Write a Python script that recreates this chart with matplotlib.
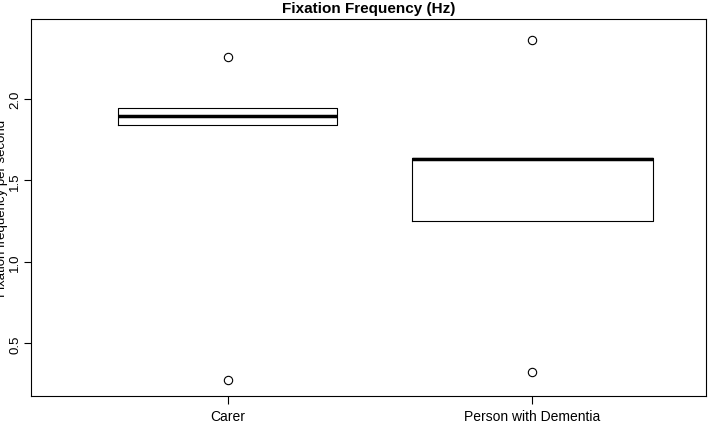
import matplotlib
matplotlib.use("Agg")
import matplotlib.pyplot as plt

groups = ["Carer", "Person with Dementia"]
q1 = [1.84, 1.25]
median = [1.896, 1.63]
q3 = [1.945, 1.64]
outliers = [[2.26, 0.276], [2.36, 0.325]]
positions = [1, 2]
widths = [0.72, 0.79]

plt.rcParams["font.family"] = "Liberation Sans"
fig = plt.figure(figsize=(7.09, 4.27), dpi=100)
ax = fig.add_axes([31 / 709, 30 / 427, 675 / 709, 377 / 427])

stats = []
for i in range(len(groups)):
    stats.append(dict(med=median[i], q1=q1[i], q3=q3[i], whislo=q1[i], whishi=q3[i],
                      fliers=outliers[i], label=groups[i]))
ax.bxp(stats, positions=positions, widths=widths, showcaps=False,
       boxprops=dict(color="black", linewidth=0.8),
       medianprops=dict(color="black", linewidth=2.5),
       whiskerprops=dict(color="black", linewidth=0.8),
       flierprops=dict(marker="o", markerfacecolor="none", markeredgecolor="black",
                       markersize=6, markeredgewidth=0.8))

ax.set_xlim(0.354, 2.57)
ax.set_ylim(0.178, 2.49)
ax.set_yticks([0.5, 1.0, 1.5, 2.0])
ax.set_yticklabels(["0.5", "1.0", "1.5", "2.0"], rotation=90, va="center", fontsize=9.5)
ax.tick_params(axis="x", labelsize=10, length=6)
ax.tick_params(axis="y", length=5, pad=2)
ax.set_ylabel("Fixation frequency per second", fontsize=9.5, labelpad=1)
ax.set_title("Fixation Frequency (Hz)", fontsize=11, fontweight="bold", pad=5)
for s in ax.spines.values():
    s.set_linewidth(0.8)

fig.savefig("out.png", dpi=100)
